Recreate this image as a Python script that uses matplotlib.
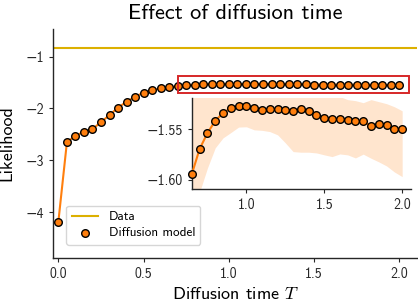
import matplotlib
matplotlib.use('Agg')
import matplotlib.pyplot as plt
from matplotlib.patches import Rectangle
from matplotlib.ticker import FuncFormatter

# diffusion time grid and model likelihood
diff_time = [0.00, 0.05, 0.10, 0.15, 0.20, 0.25, 0.30, 0.35, 0.40, 0.45,
             0.50, 0.55, 0.60, 0.65, 0.70, 0.75, 0.80, 0.85, 0.90, 0.95,
             1.00, 1.05, 1.10, 1.15, 1.20, 1.25, 1.30, 1.35, 1.40, 1.45,
             1.50, 1.55, 1.60, 1.65, 1.70, 1.75, 1.80, 1.85, 1.90, 1.95, 2.00]
likelihood = [-4.185, -2.653, -2.525, -2.454, -2.396, -2.266, -2.125, -1.985,
              -1.869, -1.772, -1.695, -1.643, -1.612, -1.5941, -1.5694, -1.5539,
              -1.5418, -1.5342, -1.5293, -1.5277, -1.5277, -1.5293, -1.5310,
              -1.5303, -1.5300, -1.5310, -1.5320, -1.5307, -1.5326, -1.5366,
              -1.5386, -1.5401, -1.5405, -1.5411, -1.5418, -1.5425, -1.5470,
              -1.5448, -1.5458, -1.5500, -1.5494]
data_likelihood = -0.826

# spread of the model in the zoomed part (T >= 0.65)
zoom_start = 13
band_low = [-1.630, -1.6118, -1.5882, -1.5684, -1.5586, -1.5534, -1.5480,
            -1.5477, -1.5507, -1.5512, -1.5524, -1.5556, -1.5635, -1.5721,
            -1.5727, -1.5727, -1.5734, -1.5753, -1.5770, -1.5744, -1.5753,
            -1.5783, -1.5746, -1.5786, -1.5822, -1.5862, -1.5921, -1.5967]
band_high = [-1.505, -1.505, -1.505, -1.505, -1.505, -1.505, -1.505,
             -1.505, -1.505, -1.505, -1.505, -1.508, -1.510, -1.512,
             -1.514, -1.515, -1.515, -1.516, -1.517, -1.518, -1.521,
             -1.522, -1.524, -1.521, -1.523, -1.525, -1.528, -1.532]

plt.rcParams['font.family'] = ['cmss10', 'DejaVu Sans']
plt.rcParams['mathtext.fontset'] = 'cm'
plt.rcParams['axes.edgecolor'] = '#262626'
plt.rcParams['axes.linewidth'] = 1.0
plt.rcParams['xtick.color'] = '#262626'
plt.rcParams['ytick.color'] = '#262626'
plt.rcParams['xtick.major.size'] = 3.2
plt.rcParams['ytick.major.size'] = 3.2

orange = '#ff7f0e'
gold = '#dcb000'

fig = plt.figure(figsize=(4.18, 3.02), dpi=100)
ax = fig.add_axes([0.127, 0.146, 0.871, 0.758])

ax.axhline(data_likelihood, color=gold, lw=1.5, label='Data')
ax.plot(diff_time, likelihood, color=orange, lw=1.5, zorder=2)
ax.scatter(diff_time, likelihood, s=30, color=orange, edgecolors='black',
           linewidths=1.0, zorder=3, label='Diffusion model')

ax.add_patch(Rectangle((0.70, -1.695), 1.357, 0.322, fill=False,
                       edgecolor='#d62728', lw=1.4, zorder=4))

ax.set_xlim(-0.031, 2.104)
ax.set_ylim(-4.886, -0.465)
ax.set_xticks([0.0, 0.5, 1.0, 1.5, 2.0])
ax.set_yticks([-4, -3, -2, -1])
ax.tick_params(labelsize=10)
for s in ['top', 'right']:
    ax.spines[s].set_visible(False)

ax.set_title('Effect of diffusion time', fontsize=16, pad=7.5)
ax.set_xlabel('Diffusion time $T$', fontsize=13, labelpad=3.5)
ax.set_ylabel('Likelihood', fontsize=13, labelpad=7.5)

ax.legend(loc='lower left', fontsize=9.5, borderaxespad=1.0, labelspacing=0.3,
          handlelength=2.0, scatterpoints=1, framealpha=0.8, edgecolor='#cccccc')

# zoomed-in inset
axin = fig.add_axes([0.459, 0.374, 0.524, 0.3005])
t_zoom = diff_time[zoom_start:]
l_zoom = likelihood[zoom_start:]
axin.fill_between(t_zoom, band_low, band_high, color=orange, alpha=0.2, lw=0)
axin.plot(t_zoom, l_zoom, color=orange, lw=1.5, marker='o', ms=5.5,
          mfc=orange, mec='black', mew=1.0, clip_on=False, zorder=3)
axin.set_xlim(0.65, 2.056)
axin.set_ylim(-1.6089, -1.5197)
axin.set_xticks([1.0, 1.5, 2.0])
axin.set_yticks([-1.60, -1.55])
axin.yaxis.set_major_formatter(FuncFormatter(lambda v, p: f'{v:.2f}'.replace('-', '\u2212')))
axin.tick_params(labelsize=10)
axin.patch.set_alpha(0)
for s in ['top', 'right']:
    axin.spines[s].set_visible(False)

fig.savefig('out.png', dpi=100)
